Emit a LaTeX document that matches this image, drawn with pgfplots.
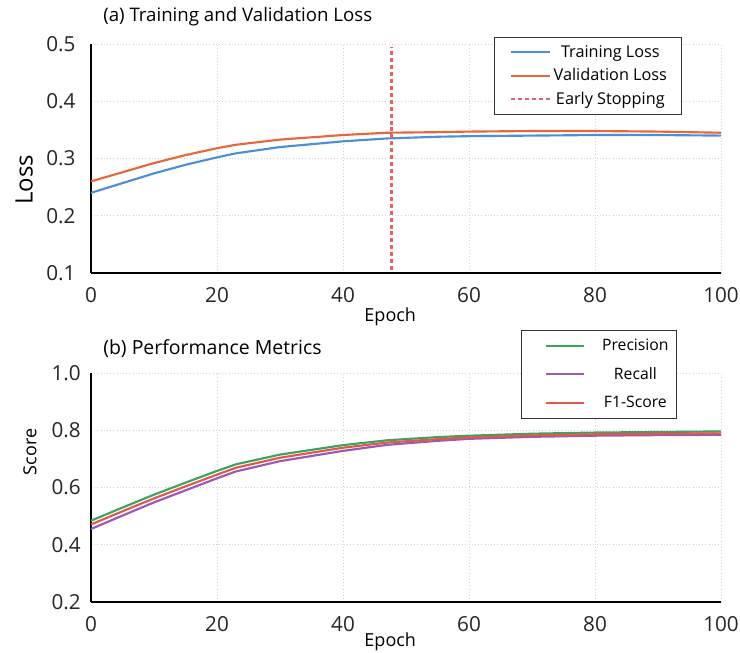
\documentclass[border=0pt]{standalone}
\usepackage{pgfplots}
\pgfplotsset{compat=1.18}
\usepackage{fontspec}
\setmainfont{Open Sans}
\definecolor{cTrain}{HTML}{4A90D9}
\definecolor{cVal}{HTML}{E8673A}
\definecolor{cStop}{HTML}{E86262}
\definecolor{cPrec}{HTML}{3AA35E}
\definecolor{cRec}{HTML}{9B59B6}
\definecolor{cF1}{HTML}{E0584A}
\pgfplotsset{
  common/.style={
    scale only axis, width=472.5pt, height=171.75pt,
    clip mode=individual,
    axis lines=left, axis line style={-, black, line width=1.1pt},
    xmin=0, xmax=100, xtick={0,20,...,100},
    tick style={draw=none},
    grid=major, major grid style={dotted, gray!35},
    /pgf/number format/assume math mode=true,
    ticklabel style={font=\fontsize{15.5}{17}\selectfont, text=black!85},
    xticklabel style={yshift=-5pt},
    yticklabel style={xshift=-6pt},
    legend cell align=center,
    legend style={draw=black!80, font=\fontsize{12.2}{14}\selectfont, inner ysep=4pt},
  }
}
\begin{document}
\begin{tikzpicture}
\useasboundingbox (-68.25pt,-285pt) rectangle (486.75pt,204.75pt);
\begin{axis}[common, at={(0,0)}, anchor=south west,
  ymin=0.1, ymax=0.5, ytick={0.1,0.2,0.3,0.4,0.5},
  yticklabel style={/pgf/number format/fixed, /pgf/number format/precision=1},
  xlabel={Epoch}, xlabel style={font=\fontsize{13.5}{15}\selectfont, at={(axis description cs:0.475,-0.19)}, anchor=center},
  ylabel={Loss}, ylabel style={font=\fontsize{18}{20}\selectfont, at={(axis description cs:-0.106,0.406)}, anchor=center},
  legend image code/.code={\path (0pt,0pt); \draw[#1] (3.25pt,0pt) -- (32.25pt,0pt);},
  legend style={at={(axis description cs:0.938,1.031)}, anchor=north east, row sep=3pt, inner xsep=9pt},
]
\node[anchor=west, font=\fontsize{14}{16}\selectfont] at (axis description cs:0.012,1.118) {(a) Training and Validation Loss};
\addplot[cTrain, line width=1.6pt] coordinates {
(0,0.240) (5,0.257) (10,0.274) (15,0.289) (20,0.302) (23,0.309) (30,0.320) (40,0.330) (47,0.335) (55,0.338) (60,0.339) (70,0.340) (80,0.341) (90,0.341) (100,0.340)};
\addlegendentry{Training Loss}
\addplot[cVal, line width=1.6pt] coordinates {
(0,0.260) (5,0.276) (10,0.292) (15,0.306) (20,0.318) (23,0.324) (30,0.333) (40,0.341) (47,0.345) (55,0.346) (60,0.347) (70,0.348) (80,0.348) (90,0.347) (100,0.345)};
\addlegendentry{Validation Loss}
\addplot[draw=cStop, color=cStop, line width=1.6pt, dash pattern=on 3pt off 2.2pt] coordinates {(47.7,0.105) (47.7,0.495)};
\addlegendentry{Early Stopping}
\end{axis}
\begin{axis}[common, at={(0,-246.75pt)}, anchor=south west,
  ymin=0.2, ymax=1.0, ytick={0.2,0.4,0.6,0.8,1.0},
  yticklabel style={/pgf/number format/fixed, /pgf/number format/fixed zerofill, /pgf/number format/precision=1, xshift=4pt},
  xlabel={Epoch}, xlabel style={font=\fontsize{13.5}{15}\selectfont, at={(axis description cs:0.475,-0.175)}, anchor=center},
  ylabel={Score}, ylabel style={font=\fontsize{13.5}{15}\selectfont, at={(axis description cs:-0.097,0.655)}, anchor=center},
  legend image code/.code={\path (0pt,0pt) (53pt,0pt); \draw[#1] (13.5pt,0pt) -- (42.5pt,0pt);},
  legend style={at={(axis description cs:0.930,1.19)}, anchor=north east, row sep=7pt, inner ysep=5pt, inner xsep=4pt, font=\fontsize{11.8}{14}\selectfont},
]
\node[anchor=west, font=\fontsize{14.6}{16}\selectfont] at (axis description cs:0.012,1.105) {(b) Performance Metrics};
\addplot[cPrec, line width=1.6pt] coordinates {
(0,0.484) (5,0.530) (10,0.575) (15,0.617) (20,0.658) (23,0.681) (30,0.715) (40,0.748) (47,0.765) (55,0.776) (60,0.781) (70,0.788) (80,0.792) (90,0.794) (100,0.796)};
\addlegendentry{Precision}
\addplot[cRec, line width=1.6pt] coordinates {
(0,0.455) (5,0.502) (10,0.548) (15,0.590) (20,0.632) (23,0.656) (30,0.692) (40,0.728) (47,0.749) (55,0.763) (60,0.770) (70,0.777) (80,0.781) (90,0.783) (100,0.784)};
\addlegendentry{Recall}
\addplot[cF1, line width=1.6pt] coordinates {
(0,0.471) (5,0.517) (10,0.562) (15,0.604) (20,0.645) (23,0.669) (30,0.704) (40,0.739) (47,0.757) (55,0.769) (60,0.775) (70,0.782) (80,0.786) (90,0.788) (100,0.789)};
\addlegendentry{F1-Score}
\end{axis}
\end{tikzpicture}
\end{document}
